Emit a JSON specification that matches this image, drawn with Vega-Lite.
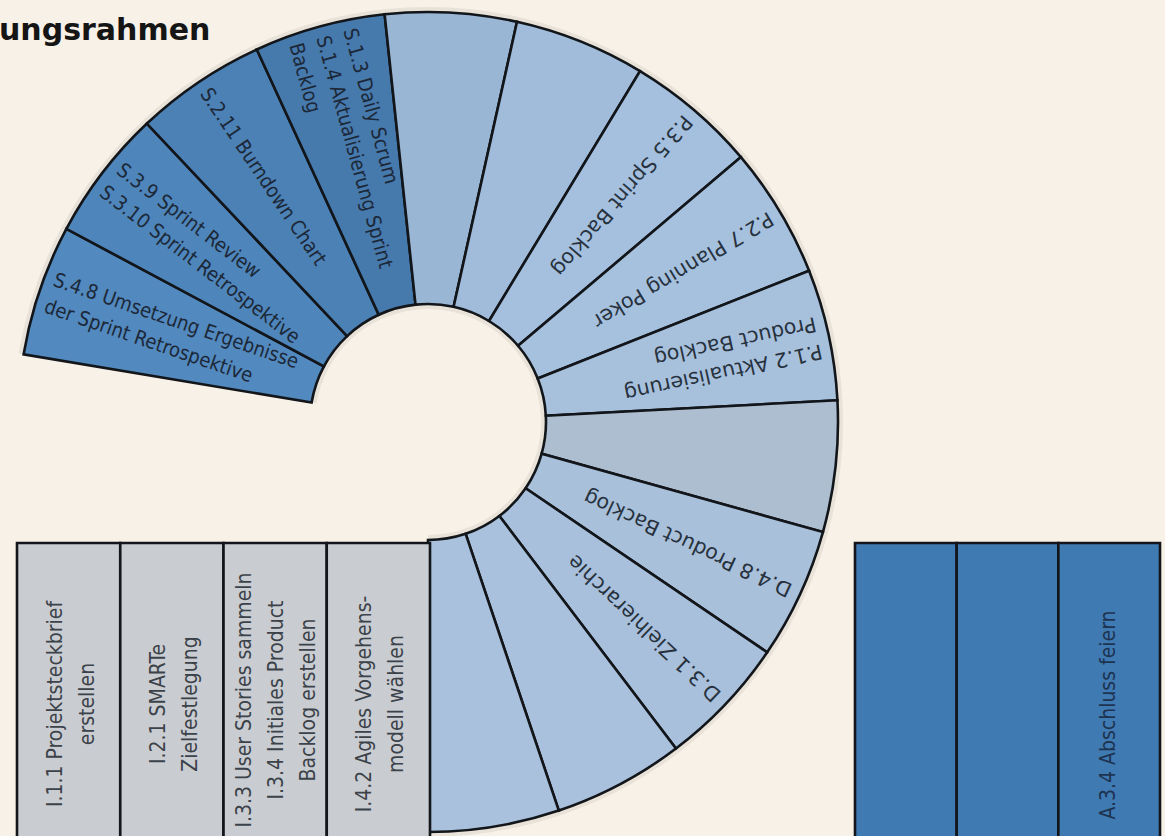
{
  "$schema": "https://vega.github.io/schema/vega-lite/v6.json",
  "width": 856,
  "height": 844,
  "autosize": "none",
  "padding": {"left": 0, "top": 0, "right": 309, "bottom": 0},
  "background": "#f7f1e7",
  "config": {"view": {"stroke": null}, "font": "DejaVu Sans"},
  "title": {"text": "ungsrahmen", "anchor": "start", "frame": "group", "orient": "top", "offset": 0, "dy": 46, "dx": -1, "fontSize": 30, "fontWeight": "bold", "font": "DejaVu Sans", "color": "#151515"},
  "datasets": {
    "ring": [
      {"seg": 1, "phase": "S", "share": 1, "label": "S.4.8 Umsetzung Ergebnisse\nder Sprint Retrospektive"},
      {"seg": 2, "phase": "S", "share": 1, "label": "S.3.9 Sprint Review\nS.3.10 Sprint Retrospektive"},
      {"seg": 3, "phase": "S", "share": 1, "label": "S.2.11 Burndown Chart"},
      {"seg": 4, "phase": "S", "share": 1, "label": "S.1.3 Daily Scrum\nS.1.4 Aktualisierung Sprint\nBacklog"},
      {"seg": 5, "phase": "P", "share": 1, "label": ""},
      {"seg": 6, "phase": "P", "share": 1, "label": ""},
      {"seg": 7, "phase": "P", "share": 1, "label": "P.3.5 Sprint Backlog"},
      {"seg": 8, "phase": "P", "share": 1, "label": "P.2.7 Planning Poker"},
      {"seg": 9, "phase": "P", "share": 1, "label": "P.1.2 Aktualisierung\nProduct Backlog"},
      {"seg": 10, "phase": "D", "share": 1, "label": ""},
      {"seg": 11, "phase": "D", "share": 1, "label": "D.4.8 Product Backlog"},
      {"seg": 12, "phase": "D", "share": 1, "label": "D.3.1 Zielhierarchie"},
      {"seg": 13, "phase": "D", "share": 1, "label": ""},
      {"seg": 14, "phase": "D", "share": 1, "label": ""}
    ],
    "init": [
      {"step": 1, "label": "I.1.1 Projektsteckbrief\nerstellen"},
      {"step": 2, "label": "I.2.1 SMARTe\nZielfestlegung"},
      {"step": 3, "label": "I.3.3 User Stories sammeln\nI.3.4 Initiales Product\nBacklog erstellen"},
      {"step": 4, "label": "I.4.2 Agiles Vorgehens-\nmodell wählen"}
    ],
    "close": [
      {"step": 1, "label": ""},
      {"step": 2, "label": ""},
      {"step": 3, "label": "A.3.4 Abschluss feiern"}
    ]
  },
  "resolve": {"scale": {"x": "independent"}},
  "layer": [
    {
      "data": {"name": "ring"},
      "mark": {"type": "arc", "innerRadius": 113, "outerRadius": 415, "fill": "#6b6256", "opacity": 0.1},
      "encoding": {
        "theta": {"field": "share", "type": "quantitative", "stack": true, "scale": {"domain": [0, 14], "range": [-1.40499, 3.14159]}},
        "order": {"field": "seg", "type": "quantitative"}
      }
    },
    {
      "data": {"name": "ring"},
      "mark": {"type": "arc", "innerRadius": 118, "outerRadius": 410, "stroke": "#121519", "strokeWidth": 2.6},
      "encoding": {
        "theta": {"field": "share", "type": "quantitative", "stack": true, "scale": {"domain": [0, 14], "range": [-1.40499, 3.14159]}},
        "order": {"field": "seg", "type": "quantitative"},
        "color": {"field": "seg", "type": "ordinal", "legend": null, "scale": {"domain": [1,2,3,4,5,6,7,8,9,10,11,12,13,14], "range": ["#5289be","#4e85ba","#4b81b5","#4679ac","#9ab6d5","#a0bcda","#a4c0de","#a6c1de","#a7c1dd","#adbed1","#a9c0da","#a8c0db","#a9c1dc","#a9c1dc"]}}
      }
    },
    {
      "data": {"name": "ring"},
      "mark": {"type": "text", "radius": 400, "align": "left", "baseline": "middle", "dy": 0, "font": "DejaVu Sans Condensed, Liberation Sans Narrow, sans-serif", "fontSize": 20, "lineHeight": 28, "lineBreak": "\n", "fill": "#1c2838"},
      "encoding": {
        "theta": {"field": "share", "type": "quantitative", "stack": true, "scale": {"domain": [0, 14], "range": [-1.40499, 3.14159]}},
        "order": {"field": "seg", "type": "quantitative"},
        "angle": {"field": "seg", "type": "quantitative", "legend": null, "scale": {"domain": [0.5, 14.5], "range": [9.5, 270]}},
        "text": {"condition": {"test": "datum.phase === 'S' && length(split(datum.label, '\\n')) === 1", "field": "label"}, "value": ""}
      }
    },
    {
      "data": {"name": "ring"},
      "mark": {"type": "text", "radius": 400, "align": "left", "baseline": "middle", "dy": -14, "font": "DejaVu Sans Condensed, Liberation Sans Narrow, sans-serif", "fontSize": 20, "lineHeight": 28, "lineBreak": "\n", "fill": "#1c2838"},
      "encoding": {
        "theta": {"field": "share", "type": "quantitative", "stack": true, "scale": {"domain": [0, 14], "range": [-1.40499, 3.14159]}},
        "order": {"field": "seg", "type": "quantitative"},
        "angle": {"field": "seg", "type": "quantitative", "legend": null, "scale": {"domain": [0.5, 14.5], "range": [9.5, 270]}},
        "text": {"condition": {"test": "datum.phase === 'S' && length(split(datum.label, '\\n')) === 2", "field": "label"}, "value": ""}
      }
    },
    {
      "data": {"name": "ring"},
      "mark": {"type": "text", "radius": 400, "align": "left", "baseline": "middle", "dy": -28, "font": "DejaVu Sans Condensed, Liberation Sans Narrow, sans-serif", "fontSize": 20, "lineHeight": 28, "lineBreak": "\n", "fill": "#1c2838"},
      "encoding": {
        "theta": {"field": "share", "type": "quantitative", "stack": true, "scale": {"domain": [0, 14], "range": [-1.40499, 3.14159]}},
        "order": {"field": "seg", "type": "quantitative"},
        "angle": {"field": "seg", "type": "quantitative", "legend": null, "scale": {"domain": [0.5, 14.5], "range": [9.5, 270]}},
        "text": {"condition": {"test": "datum.phase === 'S' && length(split(datum.label, '\\n')) === 3", "field": "label"}, "value": ""}
      }
    },
    {
      "data": {"name": "ring"},
      "mark": {"type": "text", "radius": 400, "align": "left", "baseline": "middle", "dy": 0, "font": "DejaVu Sans", "fontSize": 20.5, "lineHeight": 28, "lineBreak": "\n", "fill": "#27323e"},
      "encoding": {
        "theta": {"field": "share", "type": "quantitative", "stack": true, "scale": {"domain": [0, 14], "range": [-1.40499, 3.14159]}},
        "order": {"field": "seg", "type": "quantitative"},
        "angle": {"field": "seg", "type": "quantitative", "legend": null, "scale": {"domain": [0.5, 14.5], "range": [9.5, 270]}},
        "text": {"condition": {"test": "datum.phase !== 'S' && length(split(datum.label, '\\n')) === 1", "field": "label"}, "value": ""}
      }
    },
    {
      "data": {"name": "ring"},
      "mark": {"type": "text", "radius": 400, "align": "left", "baseline": "middle", "dy": -14, "font": "DejaVu Sans", "fontSize": 20.5, "lineHeight": 28, "lineBreak": "\n", "fill": "#27323e"},
      "encoding": {
        "theta": {"field": "share", "type": "quantitative", "stack": true, "scale": {"domain": [0, 14], "range": [-1.40499, 3.14159]}},
        "order": {"field": "seg", "type": "quantitative"},
        "angle": {"field": "seg", "type": "quantitative", "legend": null, "scale": {"domain": [0.5, 14.5], "range": [9.5, 270]}},
        "text": {"condition": {"test": "datum.phase !== 'S' && length(split(datum.label, '\\n')) === 2", "field": "label"}, "value": ""}
      }
    },
    {
      "data": {"name": "init"},
      "mark": {"type": "rect", "fill": "#c9cdd1", "stroke": "#121519", "strokeWidth": 2.6},
      "encoding": {
        "x": {"field": "step", "type": "ordinal", "axis": null, "scale": {"range": [17, 430], "paddingInner": 0, "paddingOuter": 0}},
        "y": {"datum": 543, "type": "quantitative", "axis": null, "scale": {"domain": [0, 844], "range": [0, 844]}},
        "y2": {"datum": 900}
      }
    },
    {
      "data": {"name": "init"},
      "mark": {"type": "text", "angle": -90, "align": "center", "baseline": "middle", "dy": -13, "font": "DejaVu Sans Condensed, Liberation Sans Narrow, sans-serif", "fontSize": 21, "lineHeight": 32, "lineBreak": "\n", "fill": "#3c4249"},
      "encoding": {
        "x": {"field": "step", "type": "ordinal", "axis": null, "scale": {"range": [17, 430], "paddingInner": 0, "paddingOuter": 0}},
        "y": {"datum": 704, "type": "quantitative", "axis": null, "scale": {"domain": [0, 844], "range": [0, 844]}},
        "text": {"condition": {"test": "length(split(datum.label, '\\n')) === 2", "field": "label"}, "value": ""}
      }
    },
    {
      "data": {"name": "init"},
      "mark": {"type": "text", "angle": -90, "align": "center", "baseline": "middle", "dy": -30, "font": "DejaVu Sans Condensed, Liberation Sans Narrow, sans-serif", "fontSize": 21, "lineHeight": 32, "lineBreak": "\n", "fill": "#3c4249"},
      "encoding": {
        "x": {"field": "step", "type": "ordinal", "axis": null, "scale": {"range": [17, 430], "paddingInner": 0, "paddingOuter": 0}},
        "y": {"datum": 700, "type": "quantitative", "axis": null, "scale": {"domain": [0, 844], "range": [0, 844]}},
        "text": {"condition": {"test": "length(split(datum.label, '\\n')) === 3", "field": "label"}, "value": ""}
      }
    },
    {
      "data": {"name": "close"},
      "mark": {"type": "rect", "fill": "#3f7ab3", "stroke": "#121519", "strokeWidth": 2.6},
      "encoding": {
        "x": {"field": "step", "type": "ordinal", "axis": null, "scale": {"range": [855, 1160], "paddingInner": 0, "paddingOuter": 0}},
        "y": {"datum": 543, "type": "quantitative", "axis": null, "scale": {"domain": [0, 844], "range": [0, 844]}},
        "y2": {"datum": 900}
      }
    },
    {
      "data": {"name": "close"},
      "mark": {"type": "text", "angle": -90, "align": "center", "baseline": "middle", "font": "DejaVu Sans Condensed, Liberation Sans Narrow, sans-serif", "fontSize": 21, "lineHeight": 32, "lineBreak": "\n", "fill": "#1d3350"},
      "encoding": {
        "x": {"field": "step", "type": "ordinal", "axis": null, "scale": {"range": [855, 1160], "paddingInner": 0, "paddingOuter": 0}},
        "y": {"datum": 715, "type": "quantitative", "axis": null, "scale": {"domain": [0, 844], "range": [0, 844]}},
        "text": {"field": "label"}
      }
    }
  ]
}
